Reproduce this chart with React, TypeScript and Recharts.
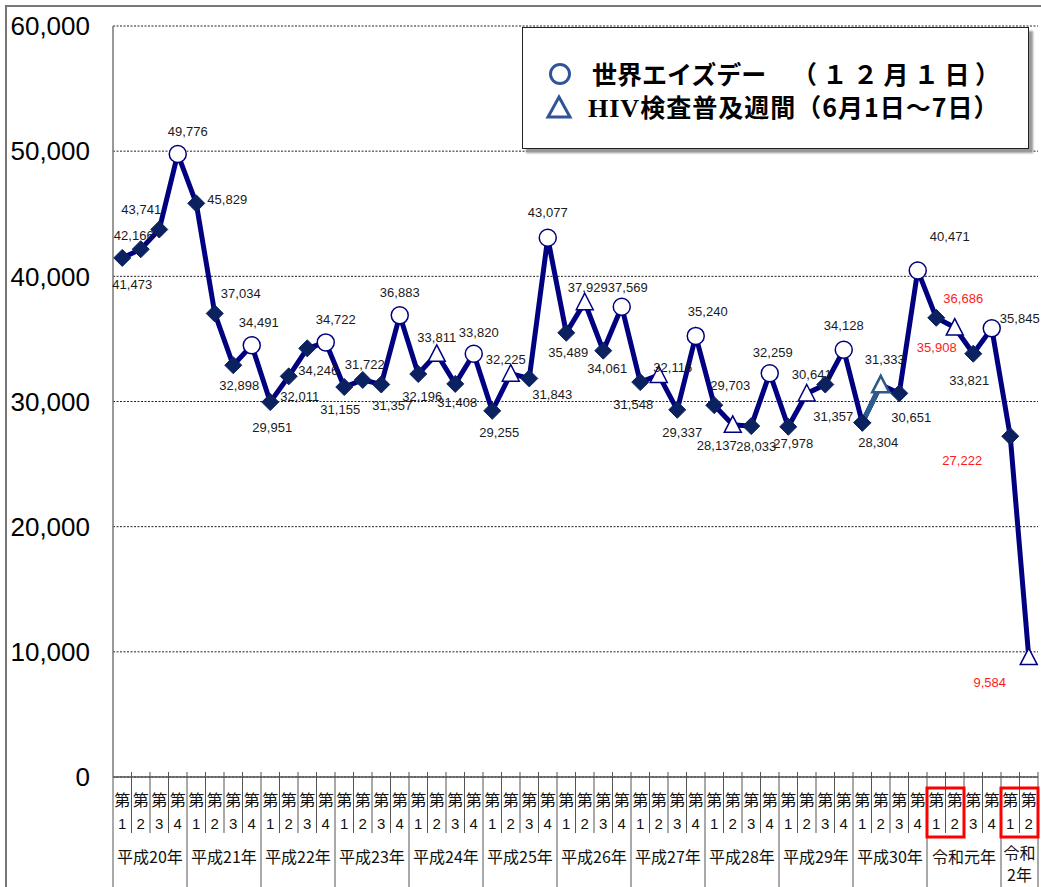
import React from 'react';
import { ComposedChart, Line, XAxis, YAxis, CartesianGrid } from 'recharts';

// 年・四半期
const years = [
  '平成20年', '平成21年', '平成22年', '平成23年', '平成24年', '平成25年', '平成26年',
  '平成27年', '平成28年', '平成29年', '平成30年', '令和元年', '令和2年',
];
const quartersPerYear = [4, 4, 4, 4, 4, 4, 4, 4, 4, 4, 4, 4, 2];

// 件数
const values = [
  41473, 42166, 43741, 49776,
  45829, 37034, 32898, 34491,
  29951, 32011, 34246, 34722,
  31155, 31722, 31357, 36883,
  32196, 33811, 31408, 33820,
  29255, 32225, 31843, 43077,
  35489, 37929, 34061, 37569,
  31548, 32116, 29337, 35240,
  29703, 28137, 28033, 32259,
  27978, 30641, 31357, 34128,
  28304, 31333, 30651, 40471,
  36686, 35908, 33821, 35845,
  27222, 9584,
];

// イベント（aids = 世界エイズデー, hiv = HIV検査普及週間）
const events = [
  '', '', '', 'aids',
  '', '', '', 'aids',
  '', '', '', 'aids',
  '', '', '', 'aids',
  '', 'hiv', '', 'aids',
  '', 'hiv', '', 'aids',
  '', 'hiv', '', 'aids',
  '', 'hiv', '', 'aids',
  '', 'hiv', '', 'aids',
  '', 'hiv', '', 'aids',
  '', 'hiv', '', 'aids',
  '', 'hiv', '', 'aids',
  '', 'hiv',
];

// 赤枠の四半期
const redQuarters = ['令和元年-1', '令和元年-2', '令和2年-1', '令和2年-2'];
// 色違いの区間
const steelQuarters = ['平成30年-1', '平成30年-2'];

// ラベル位置 [dx, dy]
const labelOffsets = [
  [10, 27], [-7, -14], [-18, -20], [10, -22],
  [31, -4], [26, -20], [6, 20], [7, -23],
  [2, 25], [11, 20], [11, 22], [10, -23],
  [-4, 22], [2, -15], [11, 21], [0, -23],
  [4, 22], [0, -16], [2, 19], [5, -21],
  [7, 22], [-5, -14], [23, 16], [0, -25],
  [2, 20], [3, -15], [4, 18], [6, -19],
  [-7, 22], [14, -8], [5, 23], [12, -24],
  [16, -20], [-16, 21], [5, 20], [3, -21],
  [5, 17], [5, -19], [8, 32], [0, -24],
  [16, 20], [4, -25], [12, 24], [32, -34],
  [27, -19], [-18, 20], [-4, 27], [28, -10],
  [-48, 24], [-39, 25],
];

const W = 1041;
const H = 887;
const PLOT_LEFT = 113;
const PLOT_TOP = 26;
const PLOT_BOTTOM = 777;
const PLOT_RIGHT = 1038;

const data: any[] = [];
years.forEach((y, yi) => {
  for (let q = 1; q <= quartersPerYear[yi]; q++) {
    const i = data.length;
    const key = `${y}-${q}`;
    data.push({
      key,
      year: y,
      yearIndex: yi,
      q,
      value: values[i],
      event: events[i],
      red: redQuarters.includes(key),
      seg: steelQuarters.includes(key) ? values[i] : null,
    });
  }
});

const BAND = (PLOT_RIGHT - PLOT_LEFT) / data.length;
const NAVY = '#000080';
const DIAMOND = '#0B2160';
const STEEL = '#2E5C8A';
const CJK = '"Noto Sans CJK JP", sans-serif';
const SANS = '"Liberation Sans", Arial, sans-serif';

const Diamond = ({ cx, cy }: { cx: number; cy: number }) => (
  <polygon
    points={`${cx},${cy - 8.5} ${cx + 8.5},${cy} ${cx},${cy + 8.5} ${cx - 8.5},${cy}`}
    fill={DIAMOND}
    stroke={DIAMOND}
    strokeWidth={1}
  />
);

const triPoints = (cx: number, cy: number) =>
  `${cx},${cy - 9} ${cx + 8.5},${cy + 7.5} ${cx - 8.5},${cy + 7.5}`;

const renderDot = (props: any) => {
  const { cx, cy, index } = props;
  const d = data[index];
  if (cx == null || cy == null) return <g key={index} />;
  const [dx, dy] = labelOffsets[index];
  let marker;
  if (d.event === 'aids') {
    marker = <circle cx={cx} cy={cy} r={8.5} fill="#fff" stroke={NAVY} strokeWidth={1.5} />;
  } else if (d.event === 'hiv') {
    marker = <polygon points={triPoints(cx, cy)} fill="#fff" stroke={NAVY} strokeWidth={1.5} />;
  } else {
    marker = <Diamond cx={cx} cy={cy} />;
  }
  return (
    <g key={index}>
      {marker}
      <text
        x={cx + dx}
        y={cy + dy + 4.5}
        textAnchor="middle"
        fontSize={13}
        fontFamily={SANS}
        fill={d.red ? '#FF1A1A' : '#1a1a1a'}
      >
        {d.value.toLocaleString('en-US')}
      </text>
    </g>
  );
};

const renderSegDot = (props: any) => {
  const { cx, cy, index } = props;
  const d = data[index];
  if (cx == null || cy == null || d.seg == null) return <g key={index} />;
  if (d.event === 'hiv') {
    return (
      <g key={index}>
        <polygon points={triPoints(cx, cy)} fill="#fff" stroke={STEEL} strokeWidth={2.5} />
      </g>
    );
  }
  return (
    <g key={index}>
      <Diamond cx={cx} cy={cy} />
    </g>
  );
};

const XTick = (props: any) => {
  const { x } = props;
  const index = props.index ?? props.payload?.index;
  const d = data[index];
  if (!d) return null;
  const y0 = PLOT_BOTTOM - 5;
  const right = x + BAND / 2;
  const n = quartersPerYear[d.yearIndex];
  const lastInYear = d.q === n;
  const parts: React.ReactNode[] = [];

  if (index === 0) {
    parts.push(
      <line key="l0" x1={x - BAND / 2} x2={x - BAND / 2} y1={PLOT_BOTTOM} y2={H} stroke="#555" strokeWidth={1} />
    );
  }
  parts.push(
    <line key="r" x1={right} x2={right} y1={y0} y2={lastInYear ? H : 833} stroke="#555" strokeWidth={1} />
  );
  parts.push(
    <text key="t1" x={x} y={806} textAnchor="middle" fontSize={16} fontFamily={CJK} fill="#111">
      第
    </text>
  );
  parts.push(
    <text key="t2" x={x} y={829} textAnchor="middle" fontSize={15} fontFamily={SANS} fill="#111">
      {d.q}
    </text>
  );
  if (d.q === 1) {
    const cxYear = x - BAND / 2 + (n * BAND) / 2;
    if (n === 2) {
      parts.push(
        <text key="y1" x={cxYear} y={859} textAnchor="middle" fontSize={16} fontFamily={CJK} fill="#111">
          {d.year.slice(0, 2)}
        </text>
      );
      parts.push(
        <text key="y2" x={cxYear} y={881} textAnchor="middle" fontSize={16} fontFamily={CJK} fill="#111">
          {d.year.slice(2)}
        </text>
      );
    } else {
      parts.push(
        <text key="y" x={cxYear} y={863} textAnchor="middle" fontSize={16} fontFamily={CJK} fill="#111">
          {d.year}
        </text>
      );
    }
  }
  const prev = data[index - 1];
  if (d.red && prev && prev.red && prev.yearIndex === d.yearIndex) {
    parts.push(
      <rect
        key="box"
        x={x - 1.5 * BAND}
        y={788}
        width={2 * BAND}
        height={49}
        fill="none"
        stroke="#FF0000"
        strokeWidth={3}
      />
    );
  }
  return <g>{parts}</g>;
};

const Legend = () => (
  <div
    style={{
      position: 'absolute',
      left: 522,
      top: 27,
      width: 507,
      height: 122,
      border: '1.5px solid #222',
      boxShadow: '4px 4px 2px #999',
      background: '#fff',
      boxSizing: 'border-box',
      fontFamily: CJK,
      fontWeight: 700,
      fontSize: 25,
      color: '#000',
    }}
  >
    <svg style={{ position: 'absolute', left: 0, top: 0 }} width={80} height={120}>
      <circle cx={37} cy={46} r={9.5} fill="none" stroke="#2F5597" strokeWidth={3} />
      <polygon points="36,69 47,89 25,89" fill="none" stroke="#2F5597" strokeWidth={3} strokeLinejoin="miter" />
    </svg>
    <div style={{ position: 'absolute', left: 69, top: 28, lineHeight: '34px', whiteSpace: 'pre' }}>
      世界エイズデー
    </div>
    <div
      style={{ position: 'absolute', left: 269, top: 28, lineHeight: '34px', whiteSpace: 'pre', letterSpacing: 5.5 }}
    >
      （１２月１日）
    </div>
    <div
      style={{ position: 'absolute', left: 65, top: 61, lineHeight: '34px', whiteSpace: 'pre', letterSpacing: 1 }}
    >
      <span style={{ fontFamily: '"Liberation Serif", serif', fontSize: 26 }}>HIV</span>検査普及週間（6月1日～7日）
    </div>
  </div>
);

export default function App() {
  return (
    <div style={{ position: 'relative', width: W, height: H, background: '#fff', overflow: 'hidden' }}>
      <style>{'body{margin:0}'}</style>
      <div style={{ position: 'absolute', left: 5, top: 5, width: 1.5, height: H, background: '#777' }} />
      <div style={{ position: 'absolute', left: 5, top: 5, width: W, height: 1.5, background: '#777' }} />
      <div style={{ position: 'absolute', left: 0, top: 0 }}>
        <ComposedChart
          width={W}
          height={H}
          data={data}
          margin={{ top: PLOT_TOP, right: W - PLOT_RIGHT, left: 0, bottom: 0 }}
        >
          <CartesianGrid vertical={false} stroke="#222" strokeDasharray="2 1.5" />
          <XAxis
            dataKey="key"
            scale="band"
            height={H - PLOT_BOTTOM}
            interval={0}
            tickLine={false}
            tickSize={0}
            axisLine={{ stroke: '#555', strokeWidth: 1.5 }}
            tick={XTick}
          />
          <YAxis
            domain={[0, 60000]}
            ticks={[0, 10000, 20000, 30000, 40000, 50000, 60000]}
            width={PLOT_LEFT}
            tickLine={false}
            tickSize={0}
            tickMargin={23}
            axisLine={{ stroke: '#777', strokeWidth: 1.5 }}
            tick={{ fontSize: 26, fill: '#000', fontFamily: SANS }}
            tickFormatter={(v: number) => v.toLocaleString('en-US')}
          />
          <Line
            dataKey="value"
            stroke={NAVY}
            strokeWidth={5}
            dot={renderDot}
            activeDot={false}
            isAnimationActive={false}
          />
          <Line
            dataKey="seg"
            stroke={STEEL}
            strokeWidth={5}
            dot={renderSegDot}
            activeDot={false}
            connectNulls={false}
            isAnimationActive={false}
          />
        </ComposedChart>
      </div>
      <Legend />
    </div>
  );
}
